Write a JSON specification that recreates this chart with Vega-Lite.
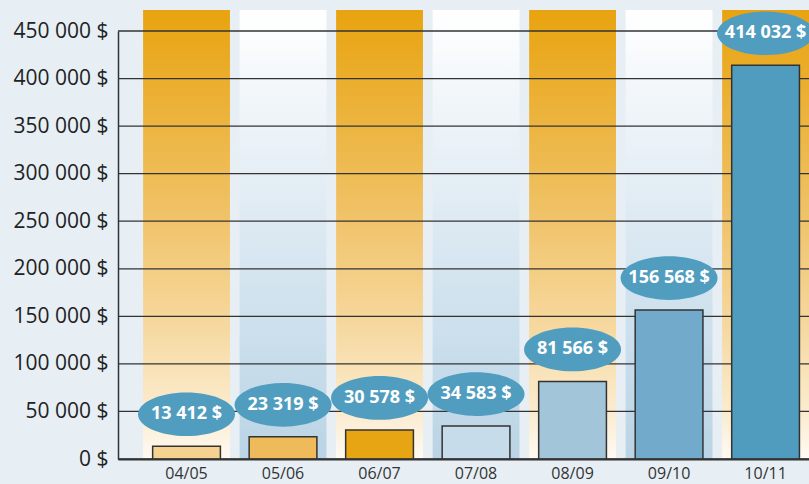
{
  "$schema": "https://vega.github.io/schema/vega-lite/v6.json",
  "width": 691,
  "height": 428,
  "autosize": {"type": "none"},
  "padding": {"left": 118, "top": 31, "right": 0, "bottom": 25},
  "background": "#e7eff5",
  "config": {
    "view": {"stroke": null},
    "locale": {"number": {"decimal": ",", "thousands": " ", "grouping": [3], "currency": ["", " $"]}}
  },
  "datasets": {
    "bars": [
      {"cat": "04/05", "value": 13412, "bg": "orange"},
      {"cat": "05/06", "value": 23319, "bg": "blue"},
      {"cat": "06/07", "value": 30578, "bg": "orange"},
      {"cat": "07/08", "value": 34583, "bg": "blue"},
      {"cat": "08/09", "value": 81566, "bg": "orange"},
      {"cat": "09/10", "value": 156568, "bg": "blue"},
      {"cat": "10/11", "value": 414032, "bg": "orange"}
    ],
    "grid": [
      {"v": 0}, {"v": 50000}, {"v": 100000}, {"v": 150000}, {"v": 200000},
      {"v": 250000}, {"v": 300000}, {"v": 350000}, {"v": 400000}, {"v": 450000}
    ]
  },
  "layer": [
    {
      "data": {"name": "bars"},
      "transform": [{"filter": "datum.bg === 'orange'"}],
      "mark": {
        "type": "bar",
        "fill": {
          "gradient": "linear", "x1": 0, "y1": 0, "x2": 0, "y2": 1,
          "stops": [
            {"offset": 0, "color": "#e8a30f"},
            {"offset": 0.45, "color": "#f0c266"},
            {"offset": 0.7, "color": "#f6d89e"},
            {"offset": 0.9, "color": "#fbecd0"},
            {"offset": 1, "color": "#fffaf3"}
          ]
        }
      },
      "encoding": {
        "x": {
          "field": "cat", "type": "nominal", "sort": null,
          "scale": {
            "domain": ["04/05", "05/06", "06/07", "07/08", "08/09", "09/10", "10/11"],
            "paddingInner": 0.1, "paddingOuter": 0.13, "align": 1
          },
          "axis": {
            "title": null, "labelAngle": 0, "ticks": false, "labelPadding": 6,
            "labelFont": "Open Sans", "labelFontSize": 16, "labelColor": "#333333",
            "domainColor": "#333333", "domainWidth": 2, "zindex": 1
          }
        },
        "y": {"datum": 472000},
        "y2": {"datum": 0}
      }
    },
    {
      "data": {"name": "bars"},
      "transform": [{"filter": "datum.bg === 'blue'"}],
      "mark": {
        "type": "bar",
        "fill": {
          "gradient": "linear", "x1": 0, "y1": 0, "x2": 0, "y2": 1,
          "stops": [
            {"offset": 0, "color": "#ffffff"},
            {"offset": 0.3, "color": "#eaf1f7"},
            {"offset": 0.65, "color": "#d0e2ee"},
            {"offset": 1, "color": "#bad4e5"}
          ]
        }
      },
      "encoding": {
        "x": {"field": "cat", "type": "nominal", "sort": null},
        "y": {"datum": 472000},
        "y2": {"datum": 0}
      }
    },
    {
      "data": {"name": "grid"},
      "mark": {"type": "rule", "color": "#333333", "strokeWidth": 1.3},
      "encoding": {
        "y": {
          "field": "v", "type": "quantitative",
          "scale": {"domain": [0, 450000], "nice": false},
          "axis": {
            "title": null, "values": [0, 50000, 100000, 150000, 200000, 250000, 300000, 350000, 400000, 450000],
            "format": "$,.0f", "ticks": false, "grid": false, "labelPadding": 10,
            "labelFont": "Open Sans", "labelFontSize": 21, "labelColor": "#222222",
            "domainColor": "#333333", "domainWidth": 1.5, "zindex": 1
          }
        }
      }
    },
    {
      "data": {"name": "bars"},
      "mark": {"type": "bar", "width": {"band": 0.78}, "stroke": "#333333", "strokeWidth": 1.5},
      "encoding": {
        "x": {"field": "cat", "type": "nominal", "sort": null},
        "y": {"field": "value", "type": "quantitative"},
        "fill": {
          "field": "cat", "type": "nominal", "legend": null,
          "scale": {
            "domain": ["04/05", "05/06", "06/07", "07/08", "08/09", "09/10", "10/11"],
            "range": ["#f5d28f", "#efbb5a", "#e8a513", "#c6dcea", "#a3c5da", "#72aacb", "#509cbf"]
          }
        }
      }
    },
    {
      "data": {"name": "bars"},
      "mark": {
        "type": "point",
        "shape": "M -1 0 A 1 0.45 0 1 0 1 0 A 1 0.45 0 1 0 -1 0 Z",
        "size": 9409, "filled": true, "fill": "#519dbf", "opacity": 1, "strokeWidth": 0, "yOffset": -32
      },
      "encoding": {
        "x": {"field": "cat", "type": "nominal", "sort": null},
        "y": {"field": "value", "type": "quantitative"}
      }
    },
    {
      "data": {"name": "bars"},
      "mark": {
        "type": "text", "yOffset": -32, "font": "Open Sans", "fontWeight": "bold",
        "fontSize": 18, "fill": "#ffffff", "align": "center", "baseline": "middle"
      },
      "encoding": {
        "x": {"field": "cat", "type": "nominal", "sort": null},
        "y": {"field": "value", "type": "quantitative"},
        "text": {"field": "value", "type": "quantitative", "format": "$,.0f"}
      }
    }
  ]
}
